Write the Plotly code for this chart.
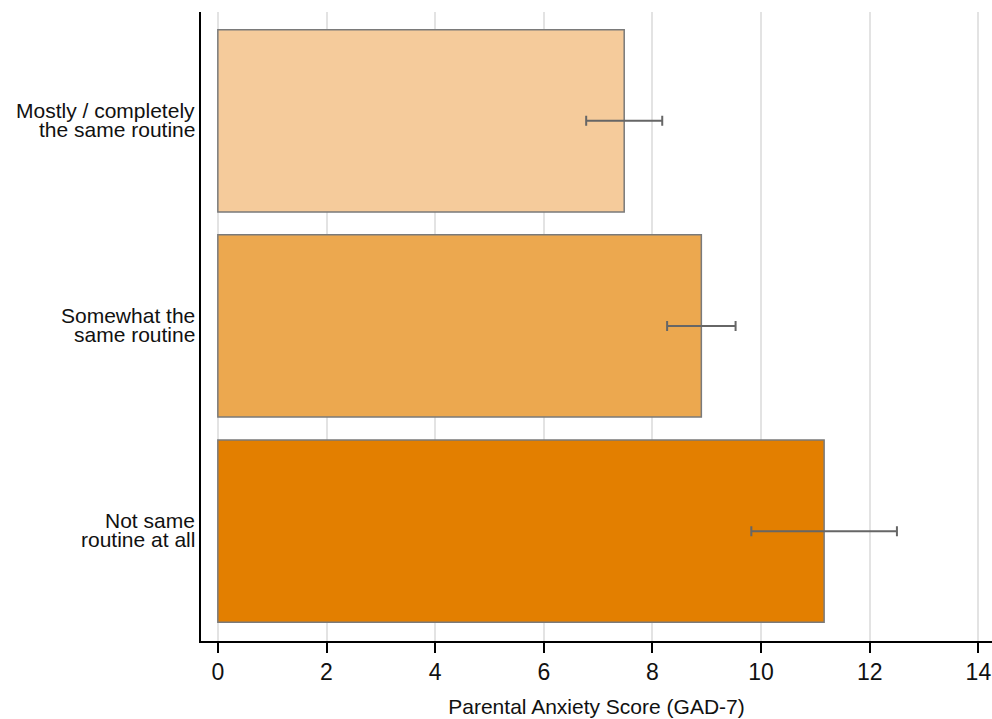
import plotly.graph_objects as go

categories = ["Mostly / completely<br>the same routine",
              "Somewhat the<br>same routine",
              "Not same<br>routine at all"]
means = [7.48, 8.90, 11.16]
errors = [0.70, 0.63, 1.34]
colors = ["#F5CB9B", "#ECA84F", "#E37F00"]
x_ticks = [0, 2, 4, 6, 8, 10, 12, 14]
x_title = "Parental Anxiety Score (GAD-7)"

FONT = "Liberation Sans, Arial, sans-serif"

fig = go.Figure()
fig.add_trace(go.Bar(
    x=means, y=categories, orientation="h",
    width=0.888,
    marker=dict(color=colors, line=dict(color="#7a7a7a", width=1.5)),
    error_x=dict(type="data", array=errors, visible=True,
                 color="#666666", thickness=2, width=5),
    showlegend=False,
))

# y labels as separate lines (tight spacing, as in the reference)
for cat in categories:
    lines = cat.split("<br>")
    shifts = [10.5, -8.5]
    for ln, sh in zip(lines, shifts):
        fig.add_annotation(x=0, xref="paper", xanchor="right", xshift=-4,
                           y=cat, yref="y", yanchor="middle", yshift=sh,
                           text=ln, showarrow=False,
                           font=dict(family=FONT, size=21, color="#111111"))

fig.update_layout(
    width=992, height=719,
    margin=dict(l=201, r=0, t=12, b=78),
    plot_bgcolor="white", paper_bgcolor="white",
    font=dict(family=FONT, color="#111111"),
    bargap=0.11,
)
fig.update_xaxes(
    range=[-0.31, 14.25], tickvals=x_ticks,
    showgrid=True, gridcolor="#e3e3e3", gridwidth=2, zeroline=False,
    showline=True, linecolor="black", linewidth=1.5,
    ticks="outside", ticklen=10, tickwidth=1.5, tickcolor="black",
    tickfont=dict(family=FONT, size=23, color="#111111"),
    title=dict(text=x_title, font=dict(family=FONT, size=21, color="#111111"), standoff=15),
)
fig.update_yaxes(
    categoryorder="array", categoryarray=categories,
    range=[2.535, -0.53], showticklabels=False,
    showgrid=False, zeroline=False,
    showline=True, linecolor="black", linewidth=1.5, ticks="",
)

fig.write_html("out.html",
               config={"displayModeBar": False},
               post_script="document.body.style.margin='0';document.body.style.overflow='hidden';")
